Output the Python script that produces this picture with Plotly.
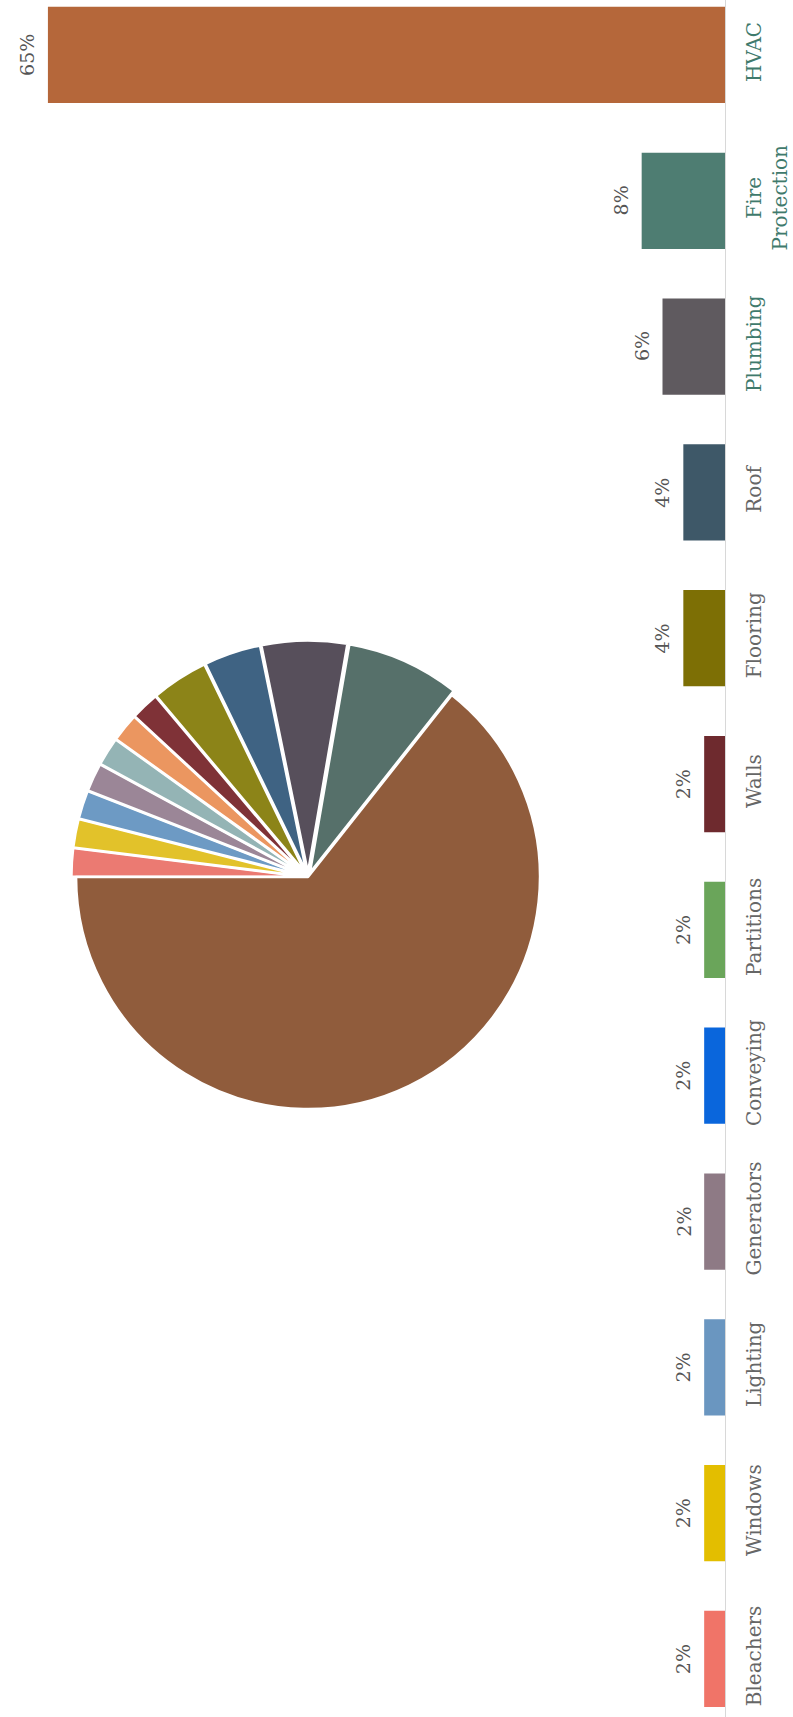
import plotly.graph_objects as go

categories = ["Bleachers", "Windows", "Lighting", "Generators", "Conveying", "Partitions",
              "Walls", "Flooring", "Roof", "Plumbing", "Fire Protection", "HVAC"]
values = [2, 2, 2, 2, 2, 2, 2, 4, 4, 6, 8, 65]
tick_labels = ["Bleachers", "Windows", "Lighting", "Generators", "Conveying", "Partitions",
               "Walls", "Flooring", "Roof", "Plumbing", "Fire<br>Protection", "HVAC"]

bar_colors = ["#f07468", "#e3be00", "#6a96c0", "#8e7a85", "#0a66dc", "#6aa55a",
              "#6e2a2e", "#7d6f05", "#3e5868", "#5f5a5f", "#4e7d72", "#b5673a"]
pie_colors = ["#eb7a72", "#e2c22a", "#6d9ac4", "#9b8697", "#94b4b5", "#eb9660",
              "#7f3237", "#8c8418", "#3f6383", "#574f5b", "#56706a", "#905c3c"]
label_colors = ["#666666"] * 9 + ["#3f7a6c"] * 3

fig = go.Figure()

fig.add_trace(go.Bar(
    x=values, y=categories, orientation="h",
    marker=dict(color=bar_colors, line=dict(width=0)),
    showlegend=False, hoverinfo="skip",
))

fig.add_trace(go.Pie(
    labels=categories, values=values, sort=False, direction="clockwise",
    rotation=270, textinfo="none", showlegend=False, hoverinfo="skip",
    pull=[0.02] * 11 + [0],
    marker=dict(colors=pie_colors, line=dict(color="white", width=2.5)),
    domain=dict(x=[0.0985, 0.7512], y=[0.3514, 0.6270]),
))

for c, v in zip(categories, values):
    fig.add_annotation(
        x=v, y=c, xref="x", yref="y", text=f"{v}%", textangle=-90,
        showarrow=False, xshift=-21, xanchor="center", yanchor="middle",
        font=dict(family="DejaVu Serif", size=19, color="#555555"),
    )

fig.update_layout(
    width=793, height=1717,
    margin=dict(l=0, r=68, t=0, b=0, autoexpand=False),
    paper_bgcolor="white", plot_bgcolor="white",
    bargap=0.34,
    xaxis=dict(range=[69.6, 0], showgrid=False, zeroline=False, showticklabels=False,
               ticks="", automargin=False),
    yaxis=dict(side="right", range=[-0.398, 11.377], showgrid=False, zeroline=False,
               showline=True, linecolor="#d8d8d8", linewidth=1, ticks="",
               automargin=False, ticklabelstandoff=11,
               tickmode="array", tickvals=categories,
               ticktext=[f'<span style="color:{col}">{t}</span>' for t, col in zip(tick_labels, label_colors)],
               tickangle=-90, tickfont=dict(family="DejaVu Serif", size=20, color="#666666")),
)

fig.write_html("out.html")
